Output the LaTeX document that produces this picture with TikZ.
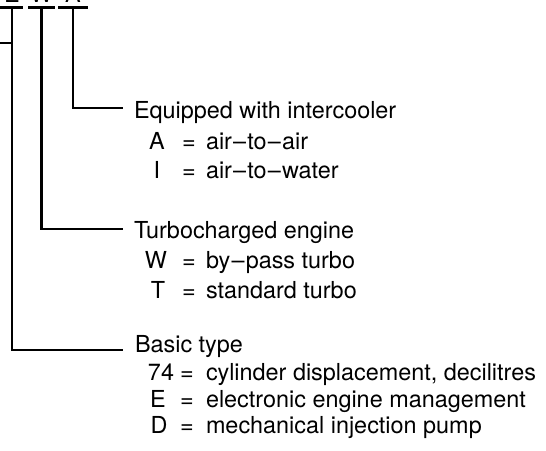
\documentclass[tikz,border=0pt]{standalone}
\usepackage{fontspec}
\setmainfont{TeX Gyre Heros}
\newcommand{\dsh}{\kern1.2pt–\kern1.2pt}
\begin{document}
\begin{tikzpicture}[x=1pt,y=-1pt,
  lbl/.style={inner sep=0pt,outer sep=0pt,anchor=base west,font=\fontsize{23.4}{28}\selectfont},
  code/.style={inner sep=0pt,outer sep=0pt,anchor=base,font=\fontsize{23.4}{28}\selectfont},
  wire/.style={line width=2.2pt,line cap=butt,line join=miter}]
\useasboundingbox (0,0) rectangle (546,450);
% clipped top letters
\node[code] (tE) at (12,2.5) {E};
\node[code] (tW) at (41.5,2.5) {W};
\node[code] (tA) at (73,2.5) {A};
% bars
\coordinate (b1l) at (0,7.5); \coordinate (b1r) at (23,7.5);
\coordinate (b2l) at (28,7.5); \coordinate (b2r) at (55,7.5);
\coordinate (b3l) at (58,7.5); \coordinate (b3r) at (88,7.5);
\draw[wire] (b1l) -- (b1r);
\draw[wire] (b2l) -- (b2r);
\draw[wire] (b3l) -- (b3r);
% group titles
\node[lbl] (t1) at (134,118) {Equipped with intercooler};
\node[lbl] (t2) at (134,238) {Turbocharged engine};
\node[lbl] (t3) at (135,352) {Basic type};
% connectors
\coordinate (v1) at (12,7.5); \coordinate (c1) at (12,350); \coordinate (e1) at (123,350);
\coordinate (v2) at (41.5,7.5); \coordinate (c2) at (41.5,229); \coordinate (e2) at (123,229);
\coordinate (v3) at (73,7.5); \coordinate (c3) at (73,108); \coordinate (e3) at (123,108);
\coordinate (s0) at (0,43); \coordinate (s1) at (12,43);
\draw[wire] (v1) -- (c1) -- (e1);
\draw[wire] (v2) -- (c2) -- (e2);
\draw[wire] (v3) -- (c3) -- (e3);
\draw[wire] (s0) -- (s1);
% group 1
\node[code] (kA) at (157,149) {A};
\node[lbl] (qA) at (182,149) {=};
\node[lbl] (dA) at (206,149) {air\dsh to\dsh air};
\node[code] (kI) at (157,178) {I};
\node[lbl] (qI) at (182,178) {=};
\node[lbl] (dI) at (206,178) {air\dsh to\dsh water};
% group 2
\node[code] (kW) at (156,268) {W};
\node[lbl] (qW) at (182,268) {=};
\node[lbl] (dW) at (206,268) {by\dsh pass turbo};
\node[code] (kT) at (158,298) {T};
\node[lbl] (qT) at (182,298) {=};
\node[lbl] (dT) at (206,298) {standard turbo};
% group 3
\node[code] (k74) at (161,380) {74};
\node[lbl] (q74) at (180,380) {=};
\node[lbl] (d74) at (206,380) {cylinder displacement, decilitres};
\node[code] (kE) at (158,407) {E};
\node[lbl] (qE) at (180,407) {=};
\node[lbl] (dE) at (206,407) {electronic engine management};
\node[code] (kD) at (159,433) {D};
\node[lbl] (qD) at (180,433) {=};
\node[lbl] (dD) at (206,433) {mechanical injection pump};
\end{tikzpicture}
\end{document}
